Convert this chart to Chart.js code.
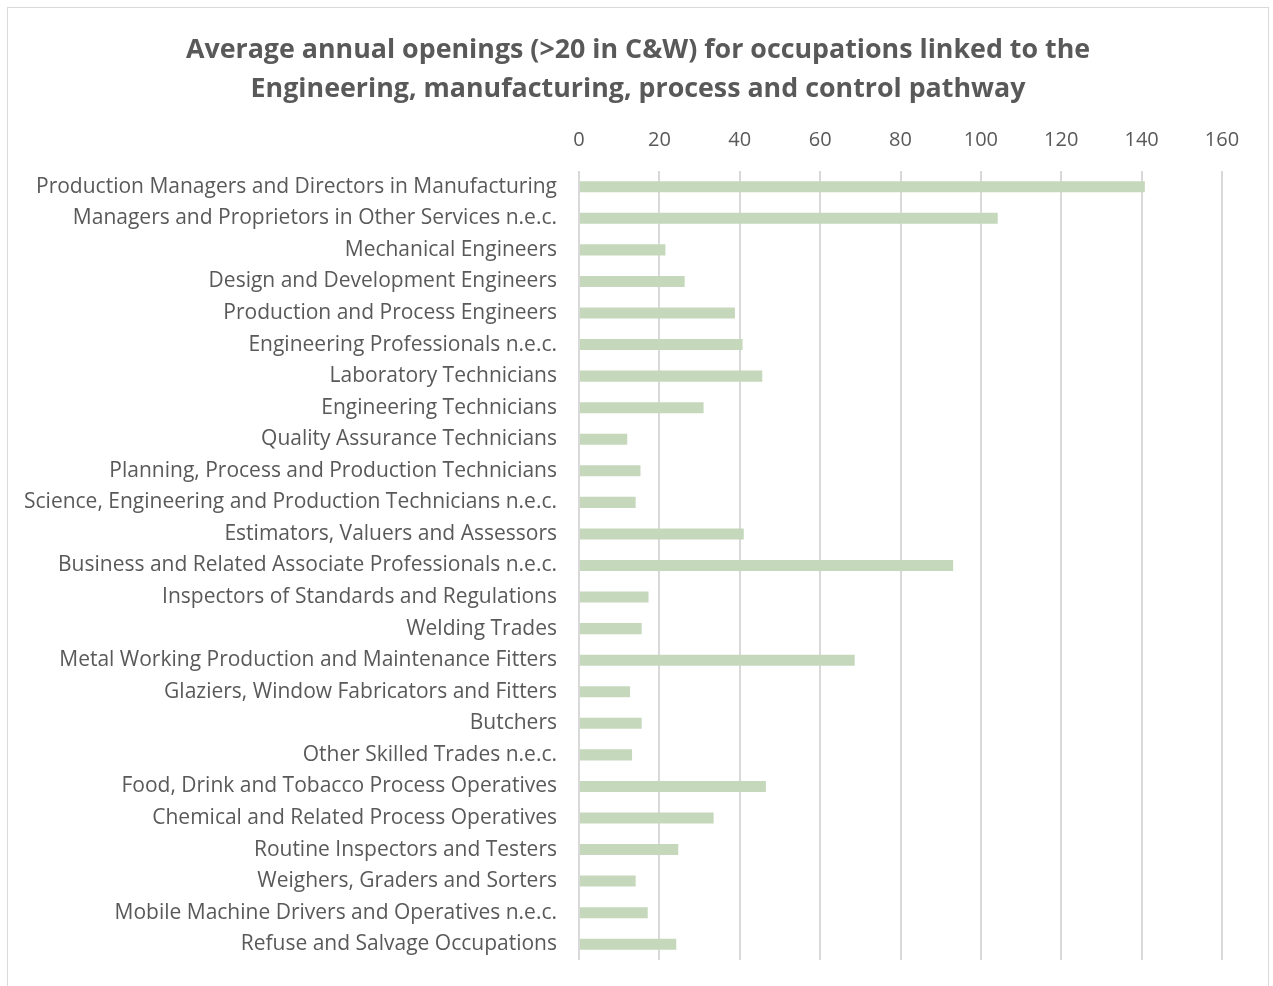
<!DOCTYPE html>
<html>
<head>
<meta charset="utf-8">
<script src="https://cdn.jsdelivr.net/npm/chart.js@4.4.1/dist/chart.umd.min.js"></script>
<style>
  html, body { margin: 0; padding: 0; background: #ffffff; overflow: hidden; }
  #wrap { position: absolute; left: 0; top: 0; width: 1273px; height: 986px; }
  canvas { display: block; }
</style>
</head>
<body>
<div id="wrap"><canvas id="c" width="1273" height="986"></canvas></div>
<script>
const titleLines = [
  "Average annual openings (>20 in C&W) for occupations linked to the",
  "Engineering, manufacturing, process and control pathway"
];
const categories = [
  "Production Managers and Directors in Manufacturing",
  "Managers and Proprietors in Other Services n.e.c.",
  "Mechanical Engineers",
  "Design and Development Engineers",
  "Production and Process Engineers",
  "Engineering Professionals n.e.c.",
  "Laboratory Technicians",
  "Engineering Technicians",
  "Quality Assurance Technicians",
  "Planning, Process and Production Technicians",
  "Science, Engineering and Production Technicians n.e.c.",
  "Estimators, Valuers and Assessors",
  "Business and Related Associate Professionals n.e.c.",
  "Inspectors of Standards and Regulations",
  "Welding Trades",
  "Metal Working Production and Maintenance Fitters",
  "Glaziers, Window Fabricators and Fitters",
  "Butchers",
  "Other Skilled Trades n.e.c.",
  "Food, Drink and Tobacco Process Operatives",
  "Chemical and Related Process Operatives",
  "Routine Inspectors and Testers",
  "Weighers, Graders and Sorters",
  "Mobile Machine Drivers and Operatives n.e.c.",
  "Refuse and Salvage Occupations"
];
const openings = [
  140.8, 104.2, 21.5, 26.3, 38.8, 40.7, 45.6, 31.0, 12.0, 15.3,
  14.1, 41.0, 93.1, 17.3, 15.6, 68.6, 12.7, 15.6, 13.2, 46.5,
  33.5, 24.7, 14.1, 17.1, 24.2
];
const xMin = 0, xMax = 160, xStep = 20;

const FONT = "'Open Sans', sans-serif";
const TEXT = "#595959";

const borderPlugin = {
  id: 'outerBorder',
  afterLayout(chart) {
    // centre the title over the whole chart frame, not just the padded area
    if (chart.titleBlock) {
      chart.titleBlock.left += 54;
      chart.titleBlock.width -= 54;
    }
  },
  beforeDraw(chart) {
    const ctx = chart.ctx;
    ctx.save();
    ctx.fillStyle = '#ffffff';
    ctx.fillRect(0, 0, chart.width, chart.height);
    ctx.strokeStyle = '#d9d9d9';
    ctx.lineWidth = 1;
    ctx.strokeRect(7.5, 7.5, 1261, 1000);
    ctx.restore();
  }
};

new Chart(document.getElementById('c'), {
  type: 'bar',
  data: {
    labels: categories,
    datasets: [{
      data: openings,
      backgroundColor: '#c5d8bb',
      borderWidth: 0,
      barPercentage: 0.7,
      categoryPercentage: 0.5
    }]
  },
  plugins: [borderPlugin],
  options: {
    indexAxis: 'y',
    responsive: false,
    animation: false,
    layout: { padding: { left: 0, right: 51, top: 0, bottom: 26 } },
    plugins: {
      legend: { display: false },
      tooltip: { enabled: false },
      title: {
        display: true,
        text: titleLines,
        color: TEXT,
        font: { family: FONT, size: 26.8, weight: 'bold', lineHeight: 1.455 },
        padding: { top: 31, bottom: 0 }
      }
    },
    scales: {
      x: {
        position: 'top',
        min: xMin, max: xMax,
        afterFit(scale) { scale.height = 62; },
        ticks: {
          stepSize: xStep,
          color: TEXT,
          font: { family: FONT, size: 20 },
          padding: 19
        },
        grid: { color: '#d9d9d9', lineWidth: 2, drawTicks: false },
        border: { display: false }
      },
      y: {
        afterFit(scale) {
          scale.width = 579;
          scale.paddingTop = 0;
          scale.paddingBottom = 0;
        },
        ticks: {
          color: TEXT,
          font: { family: FONT, size: 21 },
          padding: 22,
          autoSkip: false
        },
        grid: { display: false, drawTicks: false },
        border: { display: false }
      }
    }
  }
});
</script>
</body>
</html>
